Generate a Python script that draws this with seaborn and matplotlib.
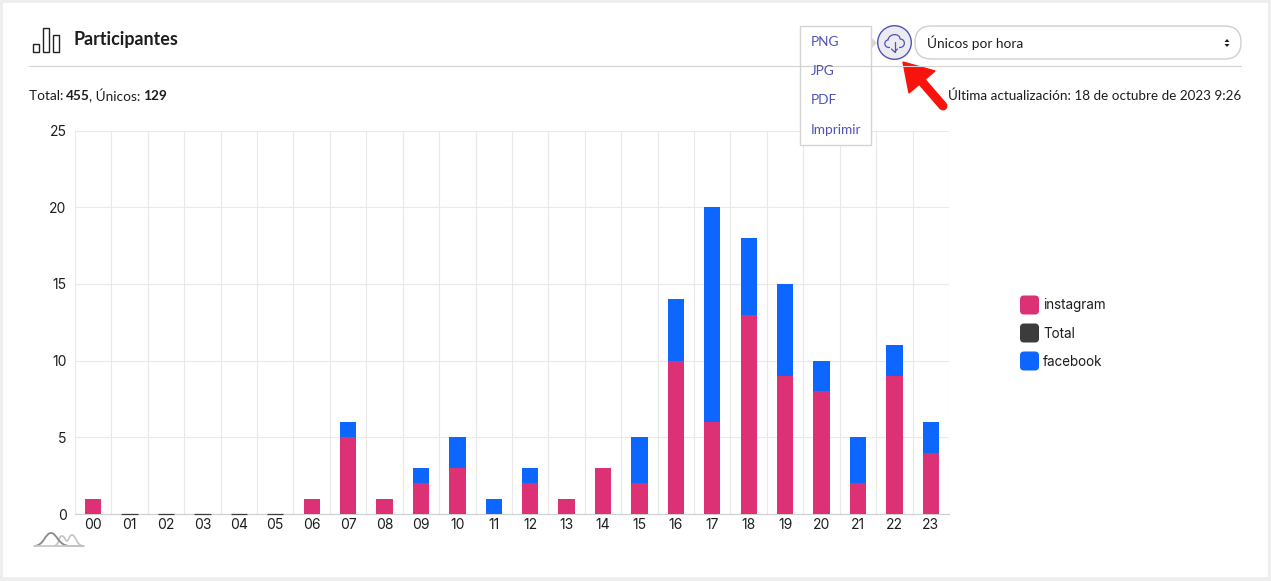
import matplotlib
matplotlib.use('Agg')
import matplotlib.pyplot as plt
import seaborn as sns
from matplotlib.patches import Rectangle, FancyBboxPatch, Circle, Polygon, PathPatch
from matplotlib.path import Path

# Data
hours = ['00', '01', '02', '03', '04', '05', '06', '07', '08', '09', '10', '11',
         '12', '13', '14', '15', '16', '17', '18', '19', '20', '21', '22', '23']
instagram = [1, 0, 0, 0, 0, 0, 1, 5, 1, 2, 3, 0, 2, 1, 3, 2, 10, 6, 13, 9, 8, 2, 9, 4]
facebook = [0, 0, 0, 0, 0, 0, 0, 1, 0, 1, 2, 1, 1, 0, 0, 3, 4, 14, 5, 6, 2, 3, 2, 2]
total = [0] * 24
y_ticks = [0, 5, 10, 15, 20, 25]
series_names = ['instagram', 'Total', 'facebook']
menu_items = ['PNG', 'JPG', 'PDF', 'Imprimir']

PINK = '#dc3175'
DARK = '#3c3c3c'
BLUE = '#0d66ff'
INDIGO = '#4f53b8'
TEXT = '#1d1d1f'
W, H = 1271, 581

sns.set_style('white')
plt.rcParams['font.family'] = ['Lato', 'DejaVu Sans']

fig = plt.figure(figsize=(W / 100, H / 100), dpi=100)

# Chart area
ax = fig.add_axes([75 / W, 1 - 514 / H, 874 / W, 383.5 / H])
sns.barplot(x=hours, y=total, color=DARK, saturation=1, width=0.45, ax=ax,
            edgecolor=DARK, linewidth=0.9, zorder=2)
# the empty Total bars only show as a thin line where nothing is stacked on top
for bar, a, b in zip(ax.patches, instagram, facebook):
    if a + b == 0:
        bar.set_clip_on(False)
    else:
        bar.set_visible(False)
sns.barplot(x=hours, y=instagram, color=PINK, saturation=1, width=0.45, ax=ax,
            linewidth=0, zorder=3)
sns.barplot(x=hours, y=facebook, bottom=instagram, color=BLUE, saturation=1, width=0.45,
            ax=ax, linewidth=0, zorder=3)
ax.set_xlim(-0.5, 23.5)
ax.set_ylim(0, 25)
ax.set_yticks(y_ticks)
ax.set_xticks([i - 0.5 for i in range(25)], minor=True)
ax.grid(True, which='minor', axis='x', color='#e9e9e9', lw=0.8, zorder=0)
ax.grid(True, which='major', axis='y', color='#e9e9e9', lw=0.8, zorder=0)
ax.set_axisbelow(True)
for s in ['top', 'right', 'left']:
    ax.spines[s].set_visible(False)
ax.spines['bottom'].set_color('#cfcfcf')
ax.spines['bottom'].set_zorder(1)
ax.tick_params(axis='both', which='both', length=0)
ax.tick_params(axis='x', pad=3)
ax.tick_params(axis='y', pad=6)
for lab in ax.get_xticklabels() + ax.get_yticklabels():
    lab.set_family(['Inter', 'DejaVu Sans'])
    lab.set_fontsize(10)
    lab.set_color(TEXT)

# Everything around the chart is laid out in pixels of the screenshot
ov = fig.add_axes([0, 0, 1, 1], zorder=5)
ov.set_xlim(0, W)
ov.set_ylim(H, 0)
ov.axis('off')
ov.patch.set_alpha(0)

# grey page frame
for x, y, w, h in [(0, 0, W, 3), (0, 577, W, 4), (0, 0, 3, H), (W - 3, 0, 3, H)]:
    ov.add_patch(Rectangle((x, y), w, h, fc='#eeeeee', ec='none'))

# header
for x, y, w, h in [(33, 44, 5.5, 8), (43, 28, 5.5, 24), (53, 35, 5.5, 17)]:
    ov.add_patch(Rectangle((x, y), w, h, fc='white', ec='#222222', lw=1))
ov.text(73.5, 40, 'Participantes', fontsize=12.9, fontweight='bold', color=TEXT, va='center')
ov.plot([29, 1241], [65.5, 65.5], color='#d2d2d2', lw=0.8)

ov.text(29, 96, 'Total: ', fontsize=9.8, color=TEXT, va='center')
ov.text(66, 96, '455', fontsize=9.8, fontweight='bold', color=TEXT, va='center')
ov.text(89, 96, ', Únicos: ', fontsize=9.8, color=TEXT, va='center')
ov.text(143, 96, '129', fontsize=9.8, fontweight='bold', color=TEXT, va='center')
ov.text(1241, 96, 'Última actualización: 18 de octubre de 2023 9:26', fontsize=9.7,
        color=TEXT, va='center', ha='right')

# export menu
ov.add_patch(Rectangle((799.5, 25.5), 71.5, 119, fc='white', ec='#d4d4d4', lw=1))
for name, y in zip(menu_items, [42, 71, 100, 130]):
    ov.text(811, y, name, fontsize=9.8, color=INDIGO, va='center')
ov.add_patch(Polygon([(871, 37), (877, 43), (871, 49)], fc='#d8d8d8', ec='none'))

# download button
ov.add_patch(Circle((894.5, 42.5), 16.8, fc='#ececf0', ec=INDIGO, lw=1))
cloud = Path([(890, 47.5), (883, 48), (884, 40), (888, 40), (889, 33), (900, 33), (900, 39),
              (906, 39), (906, 48), (899, 47.5)],
             [Path.MOVETO] + [Path.CURVE4] * 9)
ov.add_patch(PathPatch(cloud, fc='none', ec=INDIGO, lw=0.9))
ov.plot([894.5, 894.5], [42, 52], color=INDIGO, lw=0.9)
ov.plot([891.5, 894.5, 897.5], [49, 52, 49], color=INDIGO, lw=0.9)

# select box
ov.add_patch(FancyBboxPatch((915, 26), 326, 33, boxstyle='round,pad=0,rounding_size=16.5',
                            fc='white', ec='#cfcfcf', lw=1))
ov.text(927, 42.5, 'Únicos por hora', fontsize=9.8, color=TEXT, va='center')
ov.add_patch(Polygon([(1224.5, 42), (1229.5, 42), (1227, 39)], fc=TEXT, ec='none'))
ov.add_patch(Polygon([(1224.5, 44), (1229.5, 44), (1227, 47)], fc=TEXT, ec='none'))

# red arrow
ov.plot([917, 943], [76, 106], color='#f8140c', lw=6.5, solid_capstyle='round')
ov.add_patch(Polygon([(903, 62), (935, 71), (909, 93)], fc='#f8140c', ec='#f8140c', lw=1))

# legend
for name, color, y in zip(series_names, [PINK, DARK, BLUE], [305, 333, 361]):
    ov.add_patch(FancyBboxPatch((1020, y - 9.5), 19, 19, boxstyle='round,pad=0,rounding_size=4',
                                fc=color, ec='none'))
    ov.text(1043, y + 0.5, name, fontsize=9.7, family=['Inter', 'DejaVu Sans'], color=TEXT, va='center')

# small logo below the axis
ov.plot([34, 84], [545.7, 545.7], color='#c8c8c8', lw=1.3)
grey_humps = Path([(53, 546), (60, 546), (58, 536), (62, 536), (65, 536), (65, 541), (67, 541),
                   (69, 541), (69, 535), (72, 535), (76, 535), (76, 546), (84, 546)],
                  [Path.MOVETO] + [Path.CURVE4] * 12)
ov.add_patch(PathPatch(grey_humps, fc='none', ec='#c4c4c4', lw=1.2))
dark_hump = Path([(34, 546), (44, 546), (45, 533), (51, 533), (57, 533), (58, 546), (70, 546),
                  (75, 546), (78, 546), (84, 546)],
                 [Path.MOVETO] + [Path.CURVE4] * 9)
ov.add_patch(PathPatch(dark_hump, fc='none', ec='#8a8a8a', lw=1.3))

fig.savefig('out.png', dpi=100, facecolor='white')
